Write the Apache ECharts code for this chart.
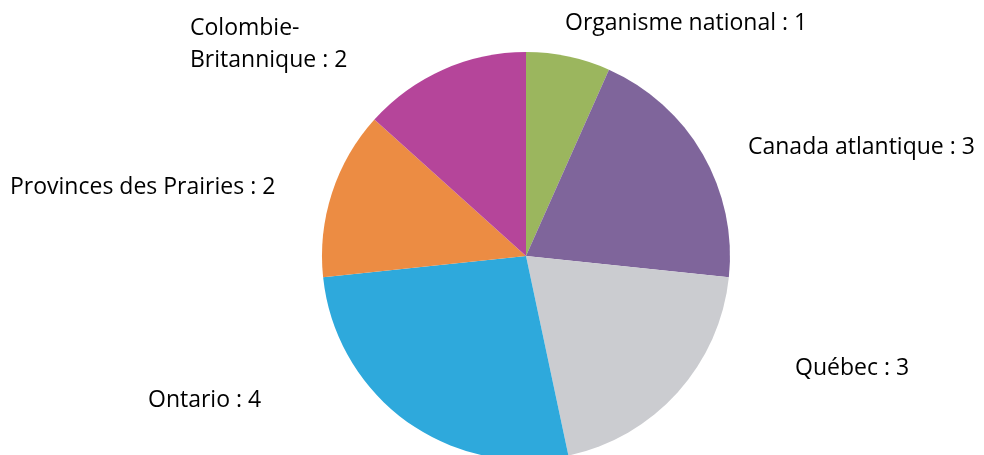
<!DOCTYPE html>
<html>
<head>
<meta charset="utf-8">
<script src="https://cdn.jsdelivr.net/npm/echarts@6/dist/echarts.min.js"></script>
<style>
  html, body { margin: 0; padding: 0; background: #fff; }
  #chart { width: 984px; height: 455px; }
</style>
</head>
<body>
<div id="chart"></div>
<script>
const regions = ["Organisme national", "Canada atlantique", "Québec", "Ontario", "Provinces des Prairies", "Colombie-\nBritannique"];
const counts = [1, 3, 3, 4, 2, 2];
const colors = ["#9bb65e", "#7f659b", "#cbccd0", "#2ea9dc", "#ec8c43", "#b5459a"];
// label anchor (left edge, vertical centre) for each slice
const labelSpots = [[565, 23], [748, 147], [795, 368], [148, 400], [10, 187], [190, 44]];

const chart = echarts.init(document.getElementById("chart"));
chart.setOption({
  animation: false,
  series: [
    {
      type: "pie",
      center: [526, 256],
      radius: 204,
      startAngle: 90,
      clockwise: true,
      silent: true,
      data: regions.map((name, i) => ({
        name: name,
        value: counts[i],
        itemStyle: { color: colors[i] },
      })),
      label: {
        show: true,
        position: "outside",
        formatter: "{b} : {c}",
        color: "#000",
        fontFamily: "Open Sans",
        fontSize: 23,
        lineHeight: 32,
        align: "left",
        overflow: "none",
      },
      labelLine: { show: false },
      labelLayout: (params) => {
        const p = labelSpots[params.dataIndex];
        return { x: p[0], y: p[1], align: "left", verticalAlign: "middle" };
      },
    },
  ],
});
</script>
</body>
</html>
